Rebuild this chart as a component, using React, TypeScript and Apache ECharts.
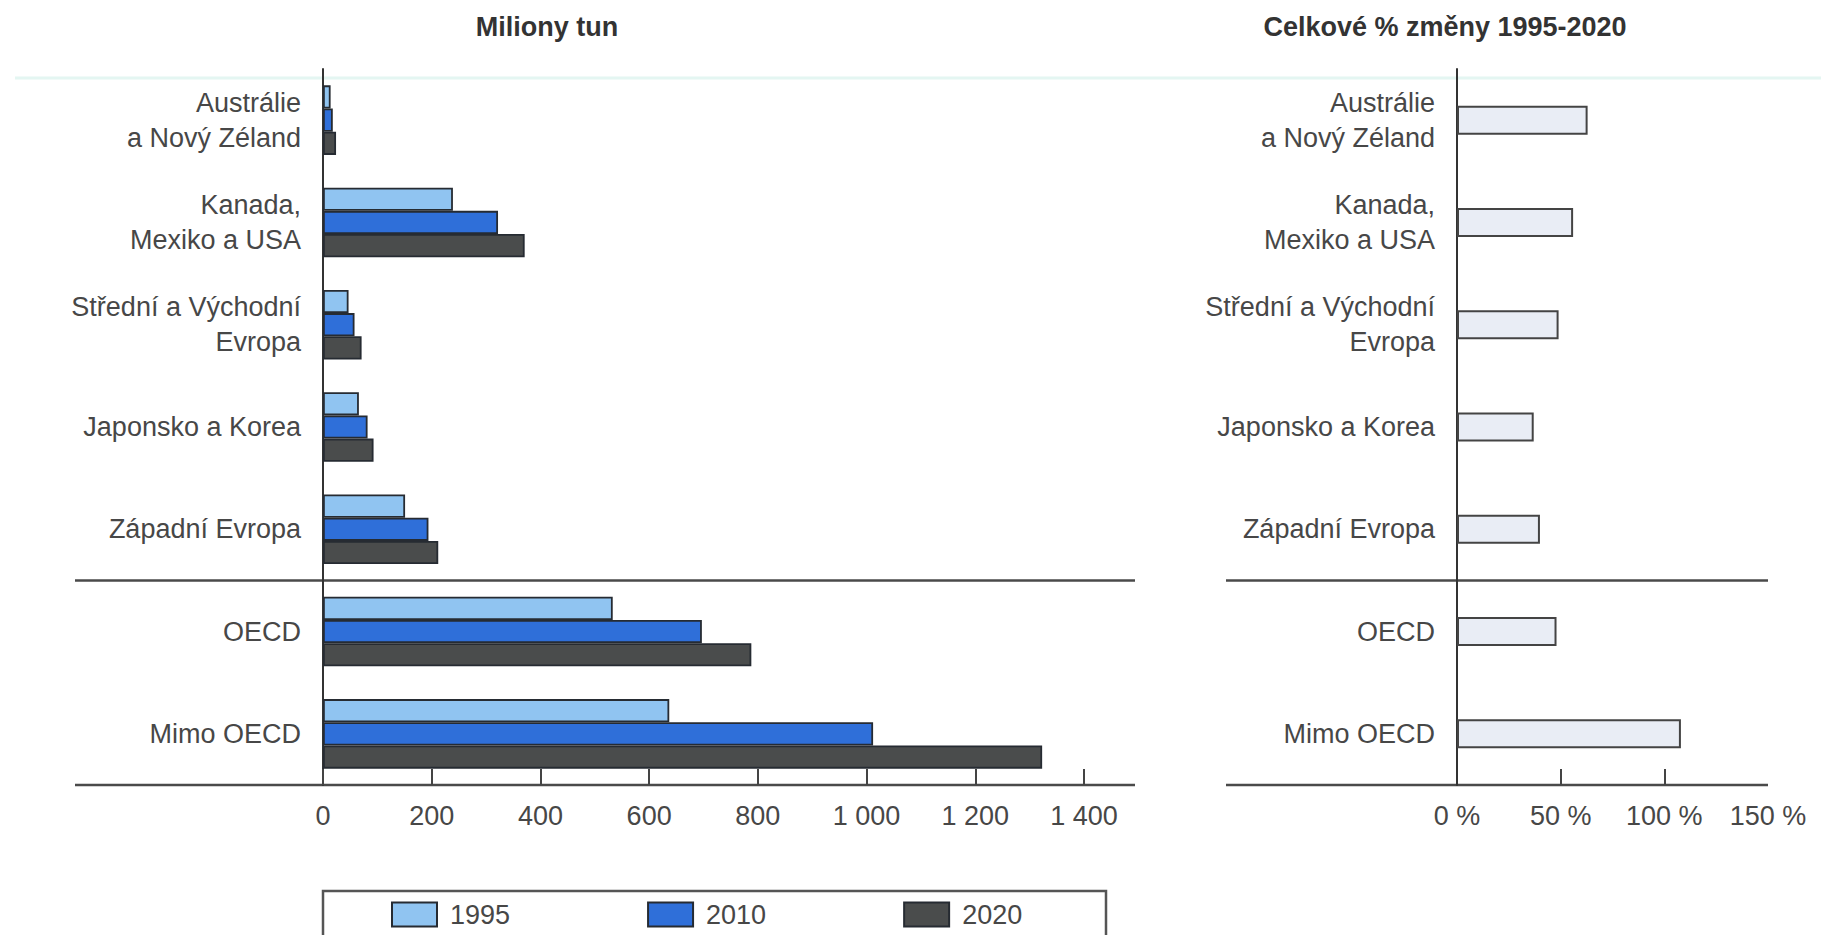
import React, { useEffect, useRef } from "react";
import * as echarts from "echarts";

const categories = [
  "Austrálie\na Nový Zéland",
  "Kanada,\nMexiko a USA",
  "Střední a Východní\nEvropa",
  "Japonsko a Korea",
  "Západní Evropa",
  "OECD",
  "Mimo OECD",
];
const years = ["1995", "2010", "2020"];
const values1995 = [14, 239, 47, 66, 151, 533, 637];
const values2010 = [18, 322, 58, 82, 194, 697, 1012];
const values2020 = [24, 371, 71, 93, 212, 788, 1323];
const pctChange = [63, 56, 49, 37, 40, 48, 108];
const leftTicks = { min: 0, max: 1400, interval: 200 };
const rightTicks = { min: 0, max: 150, interval: 50 };

const FONT = "'Liberation Sans', Arial, sans-serif";
const FS = 27;
const TXT = "#474747";
const colors = ["#90c4f1", "#2f6fd9", "#4a4c4c"];

const W = 1821;
const H = 935;
const gridTop = 69;
const gridH = 716;
const gridBottomY = gridTop + gridH;
const leftGrid = { left: 323, width: 761 };
const rightGrid = { left: 1457, width: 311 };

function fmtThousands(v: number) {
  if (v >= 1000) {
    const t = Math.floor(v / 1000);
    const r = String(v % 1000).padStart(3, "0");
    return `${t} ${r}`;
  }
  return String(v);
}

export default function App() {
  const ref = useRef<HTMLDivElement>(null);
  useEffect(() => {
    if (!ref.current) return;
    const chart = echarts.init(ref.current, null, { renderer: "svg" });
    const band = gridH / categories.length;
    const sepY = gridTop + 5 * band;
    const lineStyle = { stroke: "#4a4a4a", lineWidth: 2.5 };
    const barSeries = [values1995, values2010, values2020].map((d, i) => ({
      name: years[i],
      type: "bar",
      xAxisIndex: 0,
      yAxisIndex: 0,
      data: d,
      barGap: "0%",
      barCategoryGap: "32%",
      itemStyle: { color: colors[i], borderColor: "#262b32", borderWidth: 1.8 },
      emphasis: { disabled: true },
    }));
    chart.setOption({
      animation: false,
      backgroundColor: "#ffffff",
      textStyle: { fontFamily: FONT },
      title: [
        {
          text: "Miliony tun",
          left: 542,
          top: 8,
          textAlign: "center",
          textStyle: { fontFamily: FONT, fontSize: FS, fontWeight: "bold", color: "#333" },
        },
        {
          text: "Celkové % změny 1995-2020",
          left: 1440,
          top: 8,
          textAlign: "center",
          textStyle: { fontFamily: FONT, fontSize: FS, fontWeight: "bold", color: "#333" },
        },
      ],
      legend: {
        data: years,
        left: 386,
        top: 896,
        itemWidth: 45,
        itemHeight: 24,
        itemGap: 137,
        icon: "rect",
        selectedMode: false,
        textStyle: { fontFamily: FONT, fontSize: FS, color: TXT, padding: [0, 0, 0, 8] },
      },
      grid: [
        { left: leftGrid.left, width: leftGrid.width, top: gridTop, height: gridH },
        { left: rightGrid.left, width: rightGrid.width, top: gridTop, height: gridH },
      ],
      xAxis: [
        {
          gridIndex: 0,
          type: "value",
          ...leftTicks,
          axisLine: { show: false },
          axisTick: { show: true, inside: true, length: 16, lineStyle: { color: "#444", width: 2 } },
          splitLine: { show: false },
          axisLabel: {
            margin: 17,
            fontFamily: FONT,
            fontSize: FS,
            color: TXT,
            formatter: (v: number) => fmtThousands(v),
          },
        },
        {
          gridIndex: 1,
          type: "value",
          ...rightTicks,
          axisLine: { show: false },
          axisTick: {
            show: true,
            inside: true,
            length: 16,
            customValues: [50, 100],
            lineStyle: { color: "#444", width: 2 },
          },
          splitLine: { show: false },
          axisLabel: {
            margin: 17,
            fontFamily: FONT,
            fontSize: FS,
            color: TXT,
            showMaxLabel: true,
            formatter: (v: number) => `${v} %`,
          },
        },
      ],
      yAxis: [0, 1].map((gi) => ({
        gridIndex: gi,
        type: "category",
        inverse: true,
        data: categories,
        axisLine: { show: true, lineStyle: { color: "#333", width: 2 } },
        axisTick: { show: false },
        axisLabel: {
          margin: 22,
          fontFamily: FONT,
          fontSize: FS,
          lineHeight: 35,
          color: TXT,
          align: "right",
        },
      })),
      series: [
        ...barSeries,
        {
          name: "change",
          type: "bar",
          xAxisIndex: 1,
          yAxisIndex: 1,
          data: pctChange,
          barWidth: 29,
          itemStyle: { color: "#e9edf5", borderColor: "#444", borderWidth: 2 },
          emphasis: { disabled: true },
        },
      ],
      graphic: [
        { type: "line", shape: { x1: 15, y1: 78, x2: W, y2: 78 }, style: { stroke: "#e4f6f2", lineWidth: 3 }, z: -1 },
        { type: "line", shape: { x1: 75, y1: sepY, x2: 1135, y2: sepY }, style: lineStyle },
        { type: "line", shape: { x1: 75, y1: gridBottomY, x2: 1135, y2: gridBottomY }, style: lineStyle },
        { type: "line", shape: { x1: 1226, y1: sepY, x2: 1768, y2: sepY }, style: lineStyle },
        { type: "line", shape: { x1: 1226, y1: gridBottomY, x2: 1768, y2: gridBottomY }, style: lineStyle },
        {
          type: "rect",
          shape: { x: 323, y: 891, width: 783, height: 60 },
          style: { fill: "none", stroke: "#555", lineWidth: 2.5 },
          z: -1,
        },
      ],
    });
    return () => chart.dispose();
  }, []);
  return (
    <div
      ref={ref}
      style={{ position: "fixed", left: 0, top: 0, width: W, height: H, background: "#fff" }}
    />
  );
}
